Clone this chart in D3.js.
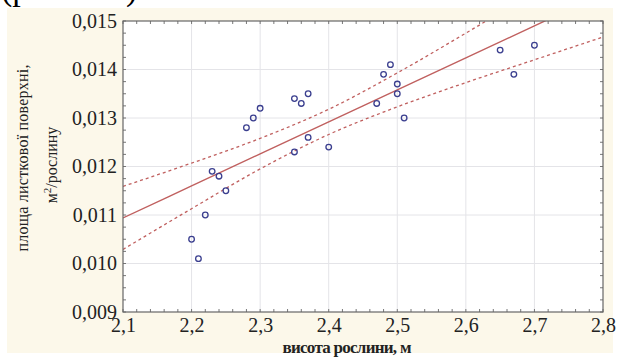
<!DOCTYPE html>
<html>
<head>
<meta charset="utf-8">
<script src="https://cdn.jsdelivr.net/npm/d3@7"></script>
<style>
    body { margin: 0; background: white; }
    svg { display: block; }
</style>
</head>
<body>
<div id="chart"></div>
<script>
// висота рослини (м) vs площа листкової поверхні (м2/рослину)
const heights = [2.20, 2.21, 2.22, 2.23, 2.24, 2.25, 2.28, 2.29, 2.30, 2.35, 2.36, 2.37,
    2.35, 2.37, 2.40, 2.47, 2.48, 2.49, 2.50, 2.50, 2.51, 2.65, 2.67, 2.70];
const leafArea = [0.0105, 0.0101, 0.0110, 0.0119, 0.0118, 0.0115, 0.0128, 0.0130, 0.0132, 0.0134, 0.0133, 0.0135,
    0.0123, 0.0126, 0.0124, 0.0133, 0.0139, 0.0141, 0.0137, 0.0135, 0.0130, 0.0144, 0.0139, 0.0145];

// regression line and 95% band
const bandX = [2.1, 2.2, 2.3, 2.4, 2.5, 2.6, 2.7, 2.8];
const fitY = [0.01094, 0.01160, 0.01226, 0.01292, 0.01358, 0.01424, 0.01490, 0.01556];
const upperY = [0.01159, 0.01207, 0.01258, 0.01318, 0.01393, 0.01475, 0.01560, 0.01646];
const lowerY = [0.01029, 0.01113, 0.01195, 0.01266, 0.01323, 0.01373, 0.01420, 0.01467];

const xTicks = [2.1, 2.2, 2.3, 2.4, 2.5, 2.6, 2.7, 2.8];
const yTicks = [0.009, 0.010, 0.011, 0.012, 0.013, 0.014, 0.015];

const width = 617, height = 358;
const plotLeft = 123, plotRight = 603, plotTop = 21, plotBottom = 312;
const lineColor = "#c0605f";
const pointColor = "#3b3f8f";
const font = "'Liberation Serif', 'Times New Roman', serif";

const svg = d3.select("#chart").append("svg")
    .attr("width", width)
    .attr("height", height);

// cream page background
svg.append("rect")
    .attr("x", 7).attr("y", 8)
    .attr("width", 606).attr("height", 345)
    .style("fill", "#fcf8ea");

// cut-off caption at the very top (only its lower edge shows in the reference)
svg.append("text")
    .attr("x", 1).attr("y", 0)
    .style("font-family", font).style("font-size", "34px")
    .text("(р");
svg.append("text")
    .attr("x", 126).attr("y", 0)
    .style("font-family", font).style("font-size", "34px")
    .text(")");

const x = d3.scaleLinear().domain([2.1, 2.8]).range([plotLeft, plotRight]);
const y = d3.scaleLinear().domain([0.009, 0.015]).range([plotBottom, plotTop]);

svg.append("rect")
    .attr("x", plotLeft).attr("y", plotTop)
    .attr("width", plotRight - plotLeft).attr("height", plotBottom - plotTop)
    .style("fill", "white");

// grid
const grid = svg.append("g").attr("id", "grid");
for(const t of xTicks.slice(1, -1)) {
    grid.append("line")
        .attr("x1", x(t)).attr("x2", x(t))
        .attr("y1", plotTop).attr("y2", plotBottom)
        .style("stroke", "#e4e4e8");
}
for(const t of yTicks.slice(1, -1)) {
    grid.append("line")
        .attr("x1", plotLeft).attr("x2", plotRight)
        .attr("y1", y(t)).attr("y2", y(t))
        .style("stroke", "#e4e4e8");
}

// minor ticks inside the frame, all four sides
const fmt = d3.format(".3f");
const xMinor = d3.range(0, 36).map(i => 2.1 + i * 0.02);
const yMinor = d3.range(0, 25).map(i => 0.009 + i * 0.00025);
const ticks = svg.append("g").attr("id", "minor");
for(const t of xMinor) {
    ticks.append("line").attr("x1", x(t)).attr("x2", x(t)).attr("y1", plotBottom).attr("y2", plotBottom - 3);
    ticks.append("line").attr("x1", x(t)).attr("x2", x(t)).attr("y1", plotTop).attr("y2", plotTop + 3);
}
for(const t of yMinor) {
    ticks.append("line").attr("x1", plotLeft).attr("x2", plotLeft + 3).attr("y1", y(t)).attr("y2", y(t));
    ticks.append("line").attr("x1", plotRight).attr("x2", plotRight - 3).attr("y1", y(t)).attr("y2", y(t));
}
ticks.selectAll("line").style("stroke", "#777").style("stroke-width", 1);

// axes labels
const xAxis = d3.axisBottom(x).tickValues(xTicks).tickSize(0).tickPadding(6)
    .tickFormat(d => d3.format(".1f")(d).replace(".", ","));
svg.append("g")
    .attr("transform", "translate(0," + plotBottom + ")")
    .call(xAxis)
    .call(g => g.select(".domain").remove())
    .selectAll("text")
    .style("font-family", font).style("font-size", "20px").style("fill", "#222");

const yAxis = d3.axisLeft(y).tickValues(yTicks).tickSize(0).tickPadding(6)
    .tickFormat(d => fmt(d).replace(".", ","));
svg.append("g")
    .attr("transform", "translate(" + plotLeft + ",0)")
    .call(yAxis)
    .call(g => g.select(".domain").remove())
    .selectAll("text")
    .style("font-family", font).style("font-size", "20px").style("fill", "#222");

// clipped lines
svg.append("clipPath").attr("id", "plot-clip")
    .append("rect")
    .attr("x", plotLeft).attr("y", plotTop)
    .attr("width", plotRight - plotLeft).attr("height", plotBottom - plotTop);

const lines = svg.append("g").attr("clip-path", "url(#plot-clip)");
const path = d3.line().x(d => x(d[0])).y(d => y(d[1])).curve(d3.curveMonotoneX);

lines.append("path")
    .attr("d", path(d3.zip(bandX, fitY)))
    .style("fill", "none").style("stroke", lineColor).style("stroke-width", 1.4);
lines.append("path")
    .attr("d", path(d3.zip(bandX, upperY)))
    .style("fill", "none").style("stroke", lineColor).style("stroke-width", 1.3)
    .style("stroke-dasharray", "3,3");
lines.append("path")
    .attr("d", path(d3.zip(bandX, lowerY)))
    .style("fill", "none").style("stroke", lineColor).style("stroke-width", 1.3)
    .style("stroke-dasharray", "3,3");

// points
svg.append("g").selectAll("circle")
    .data(d3.zip(heights, leafArea))
    .join("circle")
    .attr("cx", d => x(d[0]))
    .attr("cy", d => y(d[1]))
    .attr("r", 2.8)
    .style("fill", "none")
    .style("stroke", pointColor)
    .style("stroke-width", 1.3);

// frame
svg.append("rect")
    .attr("x", plotLeft).attr("y", plotTop)
    .attr("width", plotRight - plotLeft).attr("height", plotBottom - plotTop)
    .style("fill", "none").style("stroke", "#666").style("stroke-width", 1.2);

// titles
svg.append("text")
    .attr("x", 347).attr("y", 353)
    .attr("text-anchor", "middle")
    .style("font-family", font).style("font-size", "17px").style("font-weight", "bold")
    .attr("textLength", 129)
    .style("fill", "#222")
    .text("висота рослини, м");

const yTitle = svg.append("g");
yTitle.append("text")
    .attr("transform", "translate(28,158) rotate(-90)")
    .attr("text-anchor", "middle")
    .attr("textLength", 187)
    .style("font-family", font).style("font-size", "16px").style("fill", "#222")
    .text("площа листкової поверхні,");
const l2 = yTitle.append("text")
    .attr("transform", "translate(57,165) rotate(-90)")
    .attr("text-anchor", "middle")
    .style("font-family", font).style("font-size", "16px").style("fill", "#222");
l2.append("tspan").text("м");
l2.append("tspan").attr("dy", -6).style("font-size", "11px").text("2");
l2.append("tspan").attr("dy", 6).text("/рослину");
</script>
</body>
</html>
